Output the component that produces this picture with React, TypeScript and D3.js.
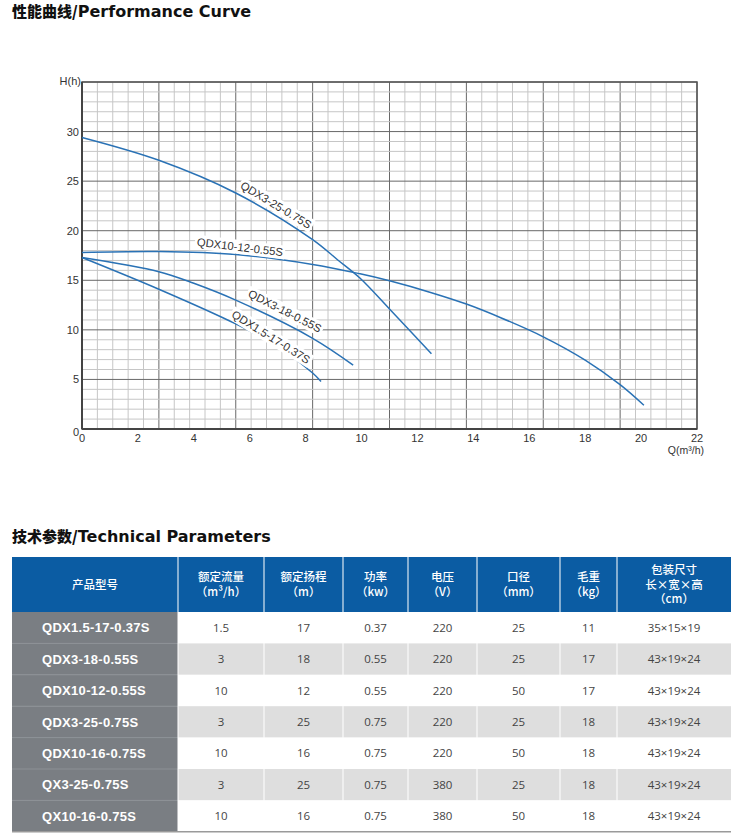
import React, { useEffect, useRef } from "react";
import * as d3 from "d3";

// pump curves: [Q (m³/h), H (m)]
const qdx3_25 = [[0, 29.4], [2.75, 27.1], [5.5, 23.8], [8.25, 19.1], [9.15, 17.05], [9.95, 15.2], [11, 12.1], [12.5, 7.6]];
const qdx10_12 = [[0, 17.8], [2.75, 17.9], [5.5, 17.6], [8.25, 16.6], [9.95, 15.65], [11, 14.95], [12.5, 13.75], [13.75, 12.6], [15, 11.2], [16.5, 9.3], [18, 6.95], [19.26, 4.45], [20.1, 2.4]];
const qdx3_18 = [[0, 17.3], [2.75, 15.87], [4, 14.7], [5.5, 13.0], [8.25, 9.15], [9.7, 6.45]];
const qdx15_17 = [[0, 17.3], [2.75, 14.1], [5.5, 10.6], [7, 8.3], [8.25, 5.65], [8.55, 4.8]];

const curveNames = ["QDX3-25-0.75S", "QDX10-12-0.55S", "QDX3-18-0.55S", "QDX1.5-17-0.37S"];
const curveData = [qdx3_25, qdx10_12, qdx3_18, qdx15_17];
// label anchor (q, h) and angle along each curve
const labelAnchors = [[6.94, 22.6, 31], [5.65, 18.35, 7], [7.26, 11.9, 27], [6.76, 9.28, 32]];

const xTicks = [0, 2, 4, 6, 8, 10, 12, 14, 16, 18, 20, 22];
const yTicks = [5, 10, 15, 20, 25, 30];

// table
const headers = [["产品型号"], ["额定流量", "（m³/h）"], ["额定扬程", "（m）"], ["功率", "（kw）"], ["电压", "（V）"], ["口径", "（mm）"], ["毛重", "（kg）"], ["包装尺寸", "长×宽×高", "（cm）"]];
const models = ["QDX1.5-17-0.37S", "QDX3-18-0.55S", "QDX10-12-0.55S", "QDX3-25-0.75S", "QDX10-16-0.75S", "QX3-25-0.75S", "QX10-16-0.75S"];
const flows = ["1.5", "3", "10", "3", "10", "3", "10"];
const heads = ["17", "18", "12", "25", "16", "25", "16"];
const powers = ["0.37", "0.55", "0.55", "0.75", "0.75", "0.75", "0.75"];
const voltages = ["220", "220", "220", "220", "220", "380", "380"];
const bores = ["25", "25", "50", "25", "50", "25", "50"];
const weights = ["11", "17", "17", "18", "18", "18", "18"];
const sizes = ["35×15×19", "43×19×24", "43×19×24", "43×19×24", "43×19×24", "43×19×24", "43×19×24"];

const LATIN = "'DejaVu Sans', sans-serif";
const CJK = "'Noto Sans CJK SC', sans-serif";
const ARIAL = "'Liberation Sans', Arial, sans-serif";

function App() {
  const svgRef = useRef<SVGSVGElement>(null);

  useEffect(() => {
    const svg = d3.select(svgRef.current);
    svg.selectAll("*").remove();

    // headings
    const heading = (y: number, zh: string, en: string) => {
      const t = svg.append("text").attr("x", 12).attr("y", y).attr("fill", "#111").attr("font-weight", "bold");
      t.append("tspan").attr("font-family", CJK).attr("font-size", 15).attr("font-weight", 900).text(zh + "/");
      t.append("tspan").attr("font-family", LATIN).attr("font-size", 16).text(en);
    };
    heading(17, "性能曲线", "Performance Curve");
    heading(542, "技术参数", "Technical Parameters");

    // ---- chart ----
    const left = 82, right = 697, top = 82, bottom = 429;
    const x = d3.scaleLinear().domain([0, 22]).range([left, right]);
    const y = d3.scaleLinear().domain([0, 35]).range([bottom, top]);
    const gx = d3.scaleLinear().domain([0, 40]).range([left, right]);

    const grid = svg.append("g");
    d3.range(0, 41).forEach(i => {
      grid.append("line")
        .attr("x1", gx(i)).attr("x2", gx(i)).attr("y1", top).attr("y2", bottom)
        .attr("stroke", i % 5 === 0 ? "#686868" : "#c6c6c6").attr("stroke-width", 1);
    });
    d3.range(0, 36).forEach(i => {
      grid.append("line")
        .attr("x1", left).attr("x2", right).attr("y1", y(i)).attr("y2", y(i))
        .attr("stroke", i % 5 === 0 ? "#686868" : "#c6c6c6").attr("stroke-width", 1);
    });
    // frame
    grid.append("rect").attr("x", left).attr("y", top).attr("width", right - left).attr("height", bottom - top)
      .attr("fill", "none").attr("stroke", "#555").attr("stroke-width", 1.5);
    grid.append("line").attr("x1", left).attr("x2", left).attr("y1", top).attr("y2", bottom).attr("stroke", "#444").attr("stroke-width", 2);
    grid.append("line").attr("x1", left).attr("x2", right).attr("y1", bottom).attr("y2", bottom).attr("stroke", "#444").attr("stroke-width", 2);

    // tick labels
    const tickStyle = (s: any) => s.attr("font-family", ARIAL).attr("font-size", 11).attr("fill", "#333");
    xTicks.forEach(t => {
      svg.append("text").attr("x", x(t)).attr("y", bottom + 13).attr("text-anchor", "middle").text(String(t)).call(tickStyle);
    });
    yTicks.forEach(t => {
      svg.append("text").attr("x", left - 3).attr("y", y(t) + 4).attr("text-anchor", "end").text(String(t)).call(tickStyle);
    });
    svg.append("text").attr("x", left - 3).attr("y", bottom + 7).attr("text-anchor", "end").text("0").call(tickStyle);
    svg.append("text").attr("x", left - 1).attr("y", top + 3).attr("text-anchor", "end").text("H(h)").call(tickStyle);
    svg.append("text").attr("x", right + 7).attr("y", bottom + 25).attr("text-anchor", "end").text("Q(m³/h)").call(tickStyle).attr("font-size", 10.5);

    // curves
    const line = d3.line<number[]>().x(d => x(d[0])).y(d => y(d[1])).curve(d3.curveCatmullRom.alpha(0.5));
    curveData.forEach(pts => {
      svg.append("path").attr("d", line(pts)).attr("fill", "none").attr("stroke", "#2a72b5").attr("stroke-width", 1.5);
    });

    // curve labels
    curveNames.forEach((name, i) => {
      const [q, h, a] = labelAnchors[i];
      const g = svg.append("g").attr("transform", `translate(${x(q)},${y(h)}) rotate(${a})`);
      const t = g.append("text").attr("text-anchor", "middle").attr("dy", "0.35em")
        .attr("font-family", ARIAL).attr("font-size", 11.3).attr("fill", "#333").text(name);
      const w = (t.node() as SVGTextElement).getComputedTextLength();
      g.insert("rect", "text").attr("x", -w / 2 - 2).attr("y", -7).attr("width", w + 4).attr("height", 14).attr("fill", "#fff");
    });

    // ---- table ----
    const colW = [166, 86, 79, 65, 69, 83, 57, 114];
    const colX = [12];
    colW.forEach((w, i) => colX.push(colX[i] + w));
    const headTop = 557, headBot = 612, rowH = 31.4;
    const rowY = d3.scaleLinear().domain([0, 7]).range([headBot, headBot + 7 * rowH]);

    const tbl = svg.append("g");
    tbl.append("rect").attr("x", colX[0]).attr("y", headTop).attr("width", colX[8] - colX[0]).attr("height", headBot - headTop).attr("fill", "#0b5ca3");

    const cols = [models, flows, heads, powers, voltages, bores, weights, sizes];
    models.forEach((_, r) => {
      tbl.append("rect").attr("x", colX[1]).attr("y", rowY(r)).attr("width", colX[8] - colX[1]).attr("height", rowH)
        .attr("fill", r % 2 === 0 ? "#ffffff" : "#dedede");
      tbl.append("rect").attr("x", colX[0]).attr("y", rowY(r)).attr("width", colW[0]).attr("height", rowH).attr("fill", "#7a7e83");
      if (r > 0) {
        tbl.append("line").attr("x1", colX[0]).attr("x2", colX[1]).attr("y1", rowY(r)).attr("y2", rowY(r)).attr("stroke", "#8c9095").attr("stroke-width", 1);
      }
    });
    // column separators
    colX.slice(1, 8).forEach(cx => {
      tbl.append("line").attr("x1", cx).attr("x2", cx).attr("y1", headTop).attr("y2", rowY(7)).attr("stroke", "#ffffff").attr("stroke-width", 1.2).attr("opacity", 0.85);
    });
    tbl.append("line").attr("x1", colX[0]).attr("x2", colX[8]).attr("y1", rowY(7)).attr("y2", rowY(7)).attr("stroke", "#9a9a9a").attr("stroke-width", 1.5);

    // header text, one text element per cell
    headers.forEach((lines, c) => {
      const cx = (colX[c] + colX[c + 1]) / 2;
      const mid = (headTop + headBot) / 2;
      const lh = 14.5;
      const t = tbl.append("text").attr("text-anchor", "middle").attr("font-family", CJK).attr("font-size", 11.5)
        .attr("font-weight", 500).attr("fill", "#fff");
      lines.forEach((s, k) => {
        t.append("tspan").attr("x", cx).attr("y", mid + (k - (lines.length - 1) / 2) * lh + 4.2).text(s);
      });
    });

    // body text
    cols.forEach((vals, c) => {
      vals.forEach((v, r) => {
        const cy = rowY(r) + rowH / 2;
        if (c === 0) {
          tbl.append("text").attr("x", 42).attr("y", cy).attr("dy", "0.36em")
            .attr("font-family", ARIAL).attr("font-weight", "bold").attr("font-size", 13)
            .attr("letter-spacing", 0.3).attr("fill", "#fff").text(v);
        } else {
          tbl.append("text").attr("x", (colX[c] + colX[c + 1]) / 2).attr("y", cy).attr("dy", "0.36em")
            .attr("text-anchor", "middle").attr("font-family", "'Open Sans', sans-serif").attr("font-size", 11.5)
            .attr("fill", "#444").text(v);
        }
      });
    });
  }, []);

  return <svg ref={svgRef} width={749} height={835} style={{ position: "absolute", left: 0, top: 0, background: "#fff" }} />;
}

export default App;
